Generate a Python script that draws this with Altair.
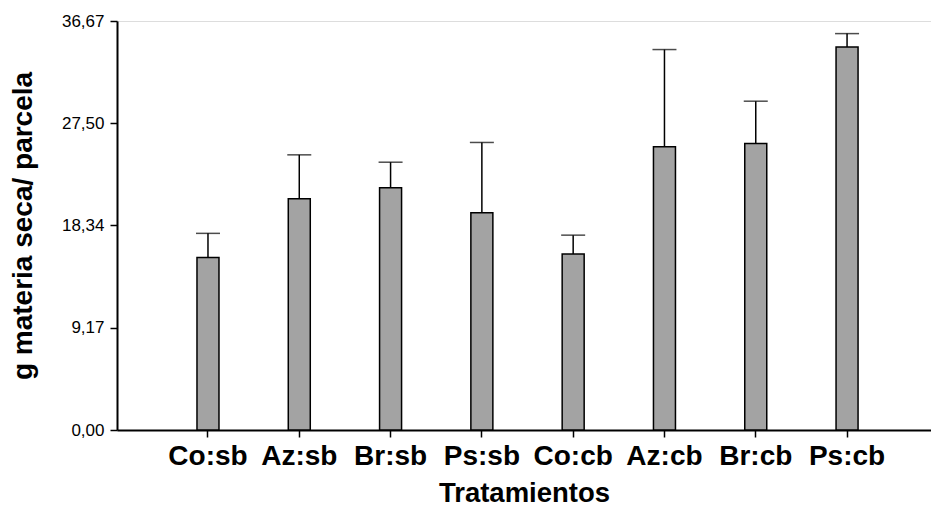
import altair as alt
import pandas as pd

categories = ["Co:sb", "Az:sb", "Br:sb", "Ps:sb", "Co:cb", "Az:cb", "Br:cb", "Ps:cb"]
means = [15.47, 20.73, 21.71, 19.47, 15.77, 25.39, 25.69, 34.35]
upper = [17.63, 24.67, 24.01, 25.78, 17.47, 34.11, 29.48, 35.54]
y_ticks = [0.0, 9.17, 18.34, 27.50, 36.67]

df = pd.DataFrame({"trat": categories, "mean": means, "upper": upper})

W = 814
H = 409

FONT = "Liberation Sans"

x_axis = alt.Axis(
    title="Tratamientos",
    titleFont=FONT,
    titleFontSize=27.5,
    titleFontWeight="bold",
    titleColor="black",
    titleX=W / 2,
    titleY=49,
    labelFont=FONT,
    labelFontSize=28,
    labelFontWeight="bold",
    labelColor="black",
    labelAngle=0,
    labelAlign="center",
    labelBaseline="top",
    labelPadding=5,
    labelOverlap=False,
    tickSize=7,
    tickColor="black",
    tickWidth=1.5,
    domainColor="black",
    domainWidth=2,
    grid=False,
)

x_scale = alt.Scale(paddingInner=0.759, paddingOuter=0.8375, align=0.523)

y_scale = alt.Scale(domain=[0, 36.67], nice=False, zero=True)

y_axis = alt.Axis(
    title="g materia seca/ parcela",
    titleFont=FONT,
    titleFontSize=28,
    titleFontWeight="bold",
    titleColor="black",
    titleX=-80,
    titleY=H / 2,
    values=y_ticks,
    labelExpr="replace(format(datum.value, '.2f'), '.', ',')",
    labelFont=FONT,
    labelFontSize=17,
    labelColor="black",
    labelPadding=6,
    tickSize=7,
    tickColor="black",
    tickWidth=1.5,
    domainColor="black",
    domainWidth=2,
    grid=False,
)


def xenc():
    return alt.X("trat:N", sort=categories, scale=x_scale, axis=x_axis)


base = alt.Chart(df)

bars = base.mark_bar(fill="#a3a3a3", stroke="black", strokeWidth=1.5).encode(
    x=xenc(),
    y=alt.Y("mean:Q", scale=y_scale, axis=y_axis),
)

err = base.mark_rule(color="black", strokeWidth=1.5).encode(
    x=xenc(),
    y=alt.Y("mean:Q", scale=y_scale, axis=y_axis),
    y2="upper:Q",
)

caps = base.mark_tick(color="black", size=24, thickness=1.5).encode(
    x=xenc(),
    y=alt.Y("upper:Q", scale=y_scale, axis=y_axis),
)

chart = (
    alt.layer(bars, err, caps)
    .properties(
        width=W,
        height=H,
        autosize=alt.AutoSizeParams(type="none"),
        padding={"left": 117, "top": 21, "right": 0, "bottom": 76},
    )
    .configure_view(stroke=None)
    .configure(background="white")
)

chart.save("out.html", embed_options={"renderer": "svg", "actions": False})
